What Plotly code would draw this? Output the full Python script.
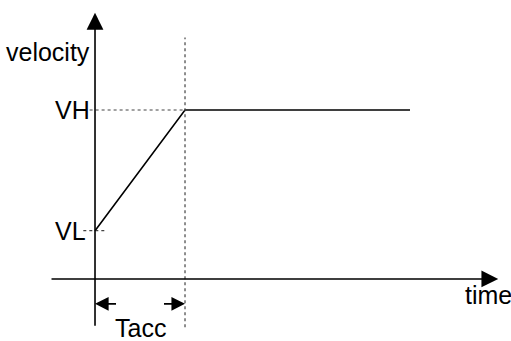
import plotly.graph_objects as go

# profile data (time in units of Tacc, velocity in arbitrary units)
time_pts = [0, 1, 3.5]
vel_pts = [0.4, 1.4, 1.4]
T_ACC = 1.0
V_L = 0.4
V_H = 1.4
level_labels = ["VH", "VL"]
axis_labels = ["velocity", "time"]
span_label = "Tacc"

FONT = dict(family="Liberation Sans, Arial, sans-serif", size=25, color="black")

fig = go.Figure()

# velocity profile
fig.add_trace(go.Scatter(x=time_pts, y=vel_pts, mode="lines",
                         line=dict(color="black", width=1.6), hoverinfo="skip"))

# dotted guides
dot = dict(color="#444444", width=1.2, dash="dot")
fig.add_trace(go.Scatter(x=[T_ACC, T_ACC], y=[-0.40, 2.0], mode="lines", line=dot, hoverinfo="skip"))
fig.add_trace(go.Scatter(x=[-0.06, T_ACC], y=[V_H, V_H], mode="lines", line=dot, hoverinfo="skip"))
fig.add_trace(go.Scatter(x=[-0.13, 0.12], y=[V_L, V_L], mode="lines", line=dot, hoverinfo="skip"))

anns = []
def arrow(x, y, ax, ay, size=1.0, width=1.6):
    anns.append(dict(x=x, y=y, ax=ax, ay=ay, xref="x", yref="y", axref="x", ayref="y",
                     text="", showarrow=True, arrowhead=2, arrowsize=size, arrowwidth=width,
                     arrowcolor="black", standoff=0, startstandoff=0))

# axes
arrow(4.48, 0, -0.5, 0, size=2.1)
arrow(0, 2.205, 0, -0.40, size=2.1)
# Tacc span arrows
arrow(0, -0.206, 0.25, -0.206, size=1.7)
arrow(T_ACC, -0.206, 0.75, -0.206, size=1.7)

def label(text, x, y, xanchor):
    anns.append(dict(x=x, y=y, xref="x", yref="y", text=text, showarrow=False,
                     xanchor=xanchor, yanchor="middle", font=FONT, borderpad=0))

label(axis_labels[0], -0.04, 1.88, "right")
label(level_labels[0], -0.04, V_H, "right")
label(level_labels[1], -0.09, V_L, "right")
label(axis_labels[1], 4.10, -0.135, "left")
label(span_label, T_ACC / 2, -0.41, "center")

fig.update_layout(
    width=511, height=341, margin=dict(l=0, r=0, t=0, b=0),
    plot_bgcolor="white", paper_bgcolor="white", showlegend=False,
    annotations=anns,
    xaxis=dict(range=[-1.0556, 4.622], visible=False, fixedrange=True),
    yaxis=dict(range=[-0.514, 2.3115], visible=False, fixedrange=True),
)

fig.write_html("out.html", config={"displayModeBar": False},
               post_script="document.body.style.margin='0';document.body.style.overflow='hidden';")
